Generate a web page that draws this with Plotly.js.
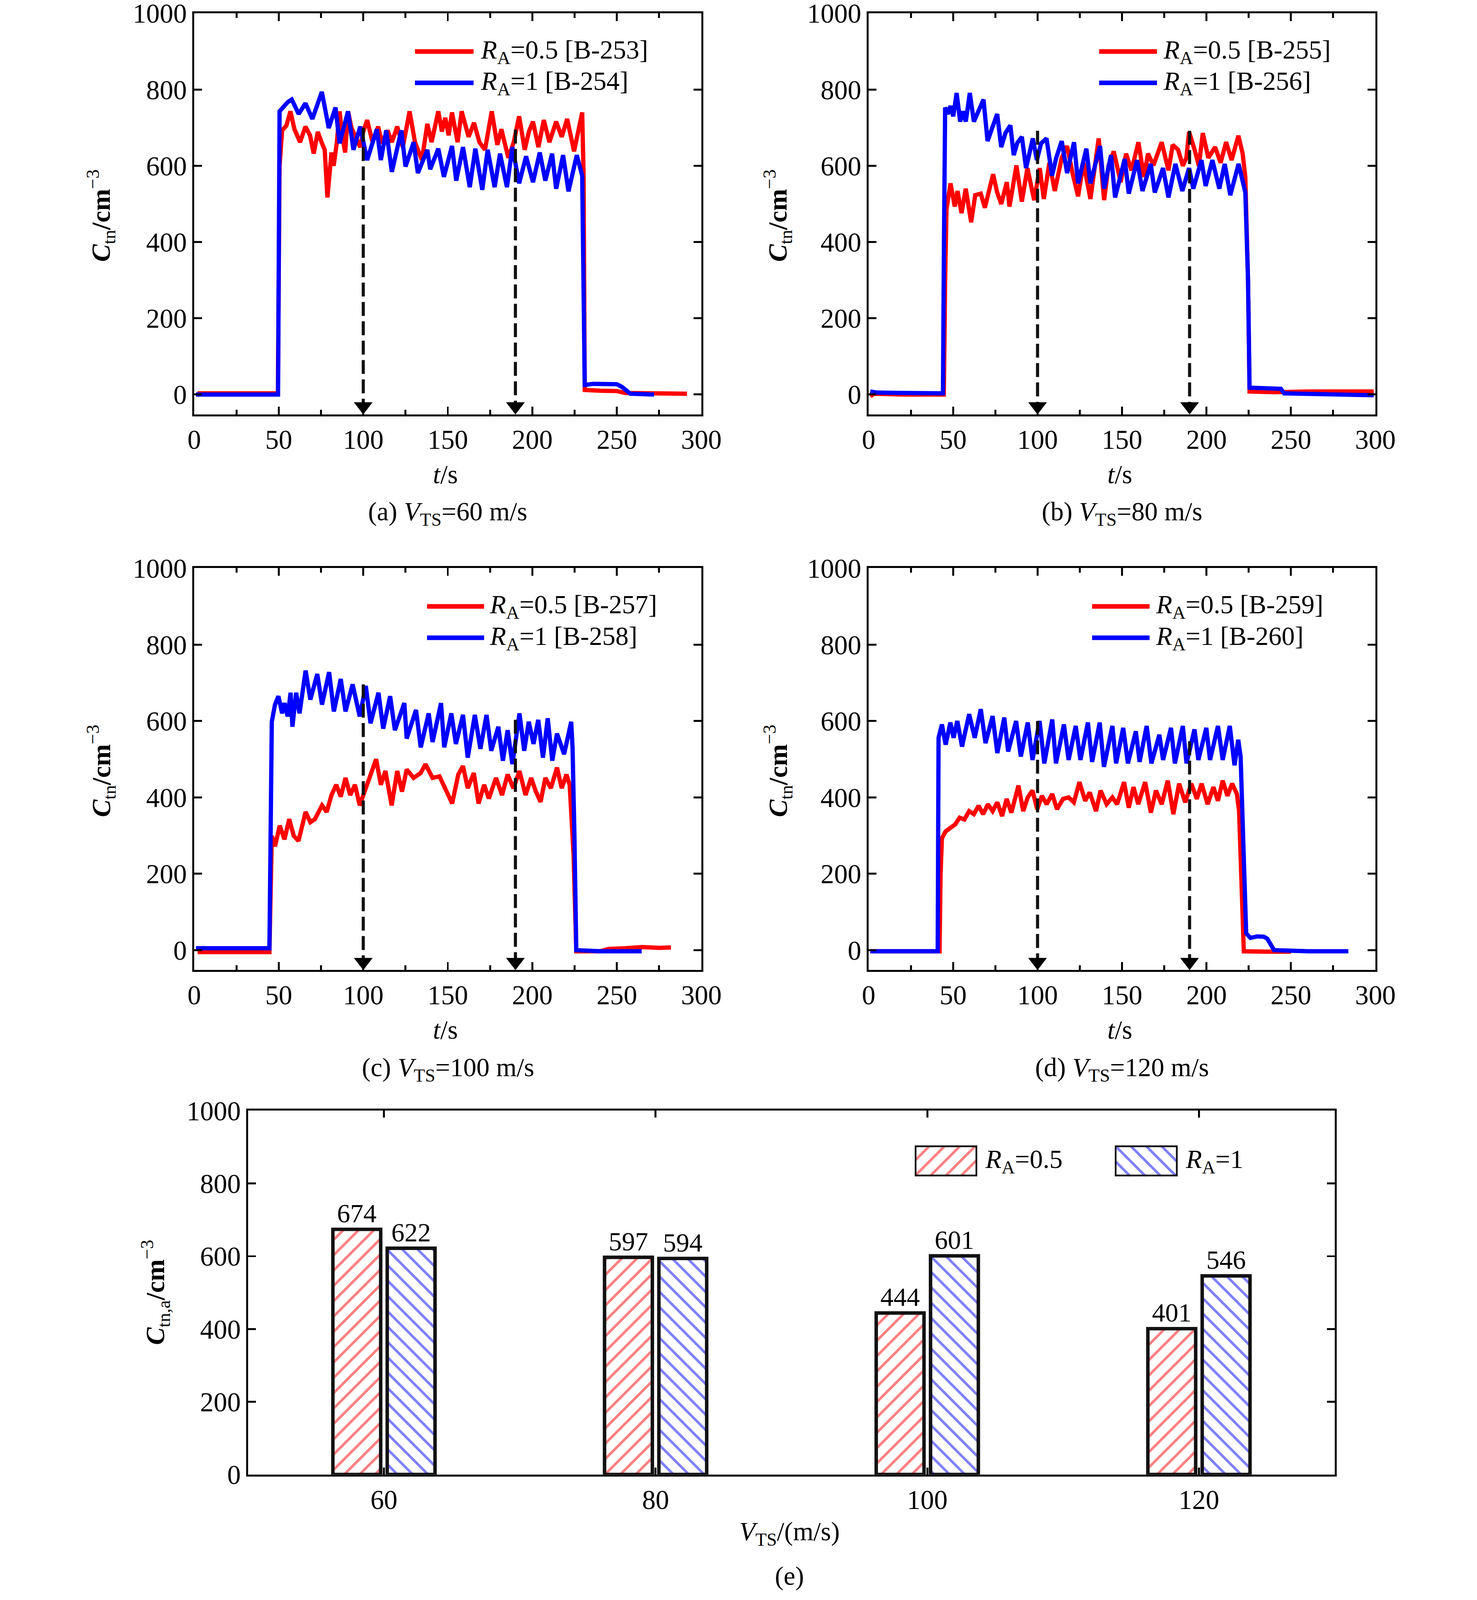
<!DOCTYPE html>
<html>
<head>
<meta charset="utf-8">
<script src="https://cdn.plot.ly/plotly-3.0.1.min.js"></script>
<style>
  html, body { margin: 0; padding: 0; background: #fff; overflow: hidden; }
  #chart { width: 100vw; height: 100vh; }
</style>
</head>
<body>
<div id="chart"></div>
<script>
// time series, [t (s), C_tn (cm^-3)]
const a_RA05 = [[2,3],[49.5,3],[50.5,600],[52,693],[54.5,705],[56.9,743],[59.3,696],[62.6,662],[65.8,703],[68.5,680],[70.7,632],[73.1,689],[75.5,660],[77.2,642],[78.8,517],[81.2,635],[82.5,600],[84.4,662],[86,743],[87.5,680],[89.3,635],[91,743],[93,700],[95,682],[98.2,649],[100,690],[102.3,720],[105.5,662],[108.8,703],[111.2,659],[114.4,693],[116.9,662],[120.1,703],[123.4,649],[127.4,743],[130.6,662],[134.7,615],[137.9,710],[140.4,662],[144.4,743],[146.5,690],[148.5,726],[150.5,680],[152.5,740],[155.8,662],[158.2,743],[162.3,676],[165.5,713],[168.7,662],[172,642],[176,743],[179.3,655],[181.7,696],[185.8,621],[189,662],[192.2,730],[195.5,642],[198,690],[200.4,716],[203.6,649],[206.8,720],[210.1,662],[214.1,716],[217.4,676],[220.6,723],[224.7,638],[227.1,693],[229.5,740],[230.3,581],[231,12],[240,10],[250,9],[255,4],[265,3],[280,2],[291.5,2]];
const a_RA1 = [[1,0],[49.6,0],[50.5,743],[55.3,767],[57.7,774],[61.8,736],[65.8,764],[69.9,723],[75.5,794],[79.6,699],[83.6,753],[86,659],[91,743],[94.2,642],[98.2,703],[102.3,615],[108,696],[110.4,615],[113.6,693],[116.9,584],[122.5,693],[125,598],[129.8,662],[132.3,581],[137.9,642],[139.6,591],[144.4,645],[147.7,571],[152.5,652],[155,561],[159,649],[163,544],[166.3,645],[170.4,537],[173.6,642],[177.7,544],[180.9,632],[185,544],[188.2,649],[192.2,554],[196.3,625],[200.4,557],[204.4,635],[207.7,561],[211.7,632],[214.1,540],[218.2,628],[221.4,533],[226.3,628],[229.5,574],[231,25],[236,28],[250,27],[253,20],[258,2],[272,0]];

const b_RA05 = [[1,-5],[3,2],[20,0],[44.5,0],[45.3,300],[46.1,486],[48.5,554],[51,493],[52.6,534],[55,476],[57.5,540],[60.7,452],[63.1,523],[66.4,527],[68.8,490],[71.2,530],[73.7,578],[76.1,530],[78.5,500],[81.8,557],[83.4,493],[87.5,601],[90.7,506],[94,594],[98,510],[101.3,594],[103.7,513],[107,608],[110.2,534],[114.3,621],[117.5,652],[120.7,581],[124,520],[127.2,608],[131.3,513],[136.2,672],[139.4,510],[142,600],[145.1,638],[149.2,557],[152.4,632],[155.6,588],[159.7,662],[163,571],[165.4,632],[168.6,601],[173.5,662],[177.5,588],[180,655],[183.2,642],[186,600],[188.1,621],[189.7,689],[193,642],[195.5,600],[197.8,686],[201.1,621],[205.1,649],[208.4,608],[211.6,662],[214.9,615],[218.9,679],[221.4,632],[223,571],[224.6,300],[225.5,8],[240,6],[260,8],[280,9],[299,8]];
const b_RA1 = [[1,8],[5,5],[20,4],[44,3],[44.6,400],[45.3,753],[46.9,736],[48.5,757],[50.1,730],[52.1,791],[54.2,716],[55.8,743],[57.5,716],[59.9,791],[62.3,716],[64.8,743],[68,774],[70.4,665],[72.9,696],[76.1,736],[78.5,649],[81,686],[83.9,706],[85.9,628],[88,660],[90.7,676],[93.2,594],[97.2,672],[99.6,615],[102.1,659],[105.3,672],[108.6,574],[111,620],[114.3,665],[117.5,581],[121.6,662],[124,554],[128.9,645],[131.3,554],[137,652],[139.4,540],[143.5,628],[145.9,517],[151.6,618],[154,527],[158.9,615],[162.1,534],[167,605],[169.4,530],[174.3,594],[177.5,517],[181.6,605],[185.7,534],[189.7,594],[192.2,540],[197,615],[199.5,547],[203.5,615],[207.6,540],[210.8,605],[214.1,523],[219,605],[223,530],[224.6,300],[225.5,18],[240,16],[244,15],[246,3],[270,0],[299,-2]];

const c_RA05 = [[2,-5],[20,-5],[44.5,-5],[45.9,299],[47.8,272],[50.6,326],[53.4,290],[56.2,343],[58.9,299],[61.7,286],[65.9,362],[68.7,335],[71.4,343],[75.6,379],[78.4,362],[81.2,406],[84,433],[86.7,402],[89.5,451],[92.3,406],[95.1,433],[97.9,379],[100.6,415],[103.4,451],[107.6,500],[110.4,433],[113.1,469],[116.8,379],[120.1,469],[122.9,415],[125.7,473],[129.8,451],[134,464],[136.8,487],[141,451],[145.1,455],[149.3,415],[152.6,384],[156.2,460],[159,482],[161.8,424],[165.4,464],[168.2,384],[171.5,433],[174.3,397],[178.5,451],[182.1,406],[185.4,460],[188.8,424],[192.4,469],[196,406],[199.3,451],[202.1,415],[204.9,388],[207.7,451],[211,424],[214.6,478],[217.4,424],[220.2,460],[222.1,433],[224.4,250],[226,-3],[240,-3],[245,3],[255,5],[265,8],[275,6],[282,7]];
const c_RA1 = [[1,5],[20,5],[44.5,5],[45.9,598],[47.8,643],[49.8,665],[52,620],[53.4,647],[55.3,612],[57,674],[58.1,585],[60.3,674],[62.3,620],[65.9,732],[68.7,656],[72.8,723],[75.6,643],[79.8,728],[82.6,625],[86.7,710],[89.5,625],[93.7,696],[97.9,612],[101.5,692],[104.3,594],[109,674],[111.8,580],[115.9,665],[118.7,576],[124.3,647],[125.7,554],[131.2,629],[134,531],[138.7,620],[141,545],[146,647],[147.9,531],[152.1,620],[154.8,540],[159,616],[161.8,504],[166,616],[169.3,527],[172.9,616],[175.7,522],[179.9,585],[182.6,496],[185.4,576],[188.2,487],[192.4,620],[195.2,522],[197.9,598],[200.7,540],[203.5,603],[206.3,504],[209.1,607],[211.8,496],[214.6,567],[218.8,513],[223,598],[223.8,531],[224.9,300],[226,0],[240,-3],[264.7,-3]];

const d_RA05 = [[1,-3],[20,-3],[42,-3],[42.6,200],[43.4,293],[45.6,311],[48.4,320],[51.2,329],[53.9,347],[56.7,342],[59.5,364],[62.3,356],[65.1,378],[67.8,356],[70.6,382],[73.4,364],[76.2,387],[79,351],[81.7,396],[84.5,360],[88.7,431],[91.5,364],[94.2,400],[97,418],[99.8,369],[102.6,404],[105.4,382],[108.7,409],[111.5,369],[115.1,396],[118.4,400],[121.5,387],[124.8,440],[128.2,391],[130.9,413],[134.6,364],[137.3,418],[140.9,382],[144.3,400],[147.1,382],[151.2,440],[154,373],[156.8,427],[159.6,382],[163.7,440],[167.1,360],[170.1,418],[173.5,382],[177.1,444],[180.4,356],[183.8,436],[187.4,387],[191,436],[194.3,396],[197.1,436],[200.7,382],[204.1,427],[206.8,391],[209.6,444],[212.4,404],[215.2,436],[218,409],[219.3,364],[220.7,150],[222.1,-3],[235,-4],[250,-4]];
const d_RA1 = [[1,-3],[20,-3],[40.9,-3],[41.4,556],[43.4,591],[45.6,538],[48.4,596],[50.3,556],[52.5,600],[55.3,533],[59.5,618],[62.8,556],[66.4,631],[69.2,542],[73.4,613],[76.2,516],[80.3,609],[82.6,520],[87.3,600],[90.1,507],[94.2,596],[97,498],[101.2,600],[104,489],[108.7,604],[110.9,489],[115.6,591],[118.4,498],[122.6,587],[125.4,498],[129.8,596],[132.3,493],[136.8,596],[139.3,480],[144.3,587],[146.5,489],[150.7,582],[153.5,489],[158.2,573],[160.4,493],[164.6,587],[167.4,489],[172.1,564],[174.3,498],[179,582],[181.3,489],[186,587],[188.2,489],[192.9,578],[195.2,498],[199.9,582],[202.1,498],[206.8,587],[209.6,498],[213.8,587],[216.6,484],[218.8,551],[220.2,507],[221.6,300],[223.5,44],[226,32],[230,36],[234,35],[236,30],[240,0],[260,-3],[284,-3]];

const runIds = [['B-253', 'B-254'], ['B-255', 'B-256'], ['B-257', 'B-258'], ['B-259', 'B-260']];
const vtsValues = [60, 80, 100, 120];
const arrowTimes = [100, 190];
const arrowTops = [[700, 695], [692, 692], [696, 603], [600, 547]];

// panel (e): time-averaged concentration
const vtsCats = ['60', '80', '100', '120'];
const meanRA05 = [674, 597, 444, 401];
const meanRA1 = [622, 594, 601, 546];

// positions below are given in pixels of the 3780x4132 reference and
// turned into paper fractions, so the figure fills whatever viewport we get
const REF_W = 3780, REF_H = 4132;
const W = window.innerWidth || REF_W;
const H = window.innerHeight || REF_H;
const k = Math.min(W / REF_W, H / REF_H);
const px = v => v / REF_W;
const py = v => 1 - v / REF_H;
const sz = v => v * k;
const FONT = 'Liberation Serif, Times New Roman, serif';
const RED = '#ff0000', BLUE = '#0000ff';

// pixel boxes of the four time plots
const boxes = [
  { l: 497, r: 1795, t: 34, b: 1070, leg: [1062, 1212, 1228, 133, 214], ytx: 258 },
  { l: 2223, r: 3520, t: 34, b: 1070, leg: [2813, 2961, 2975, 133, 214], ytx: 1990 },
  { l: 497, r: 1795, t: 1467, b: 2505, leg: [1093, 1239, 1251, 1566, 1647], ytx: 258 },
  { l: 2223, r: 3520, t: 1467, b: 2505, leg: [2795, 2942, 2956, 1566, 1647], ytx: 1990 }
];
const series = [[a_RA05, a_RA1], [b_RA05, b_RA1], [c_RA05, c_RA1], [d_RA05, d_RA1]];
const letters = ['a', 'b', 'c', 'd'];

const data = [];
const layout = {
  width: W,
  height: H,
  margin: { l: 0, r: 0, t: 0, b: 0 },
  paper_bgcolor: '#fff',
  plot_bgcolor: '#fff',
  showlegend: false,
  font: { family: FONT, size: sz(66), color: '#000' },
  shapes: [],
  annotations: []
};

function frameAxis(extra) {
  return Object.assign({
    showline: true,
    linewidth: sz(5),
    linecolor: '#000',
    mirror: 'ticks',
    ticks: 'inside',
    ticklen: sz(20),
    tickwidth: sz(5),
    tickcolor: '#000',
    showgrid: false,
    zeroline: false,
    fixedrange: true,
    ticklabeloverflow: 'allow',
    tickfont: { family: FONT, size: sz(70), color: '#000' }
  }, extra);
}

function note(x, y, text, opts) {
  layout.annotations.push(Object.assign({
    xref: 'paper', yref: 'paper', x: px(x), y: py(y),
    text: text, showarrow: false, xanchor: 'center', yanchor: 'middle',
    font: { family: FONT, size: sz(68), color: '#000' }
  }, opts || {}));
}

const ytitle = '<b><i>C</i></b><sub>tn</sub><b>/cm</b><sup>\u22123</sup>';

boxes.forEach((bx, i) => {
  const n = i + 1;
  const xa = 'x' + n, ya = 'y' + n;
  layout['xaxis' + n] = frameAxis({
    domain: [px(bx.l), px(bx.r)],
    anchor: ya,
    range: [0, 300],
    tick0: 0,
    dtick: 50,
    ticklabelstandoff: sz(-8),
    minor: { ticks: 'inside', dtick: 25, ticklen: sz(12), tickwidth: sz(5), tickcolor: '#000', showgrid: false }
  });
  layout['yaxis' + n] = frameAxis({
    domain: [py(bx.b), py(bx.t)],
    anchor: xa,
    range: [-52, 1000.5],
    tick0: 0,
    dtick: 200,
    ticklabelstandoff: sz(8)
  });

  const colors = [RED, BLUE];
  series[i].forEach((s, j) => {
    data.push({
      type: 'scatter', mode: 'lines', xaxis: xa, yaxis: ya,
      x: s.map(p => p[0]), y: s.map(p => p[1]),
      line: { color: colors[j], width: sz(11) },
      hoverinfo: 'skip'
    });
  });

  // dashed arrows marking the averaging window
  arrowTimes.forEach((t, j) => {
    data.push({
      type: 'scatter', mode: 'lines', xaxis: xa, yaxis: ya,
      x: [t, t], y: [arrowTops[i][j], -22],
      line: { color: '#111', width: sz(8), dash: sz(36) + 'px,' + sz(14) + 'px' },
      hoverinfo: 'skip'
    });
  });
  data.push({
    type: 'scatter', mode: 'markers', xaxis: xa, yaxis: ya,
    x: arrowTimes, y: arrowTimes.map(() => -31),
    marker: { symbol: 'triangle-down', size: sz(42), color: '#000' },
    cliponaxis: false,
    hoverinfo: 'skip'
  });

  // legend
  const [l0, l1, tx, y0, y1] = bx.leg;
  [[RED, y0, '0.5', runIds[i][0]], [BLUE, y1, '1', runIds[i][1]]].forEach(([c, yy, ra, run]) => {
    layout.shapes.push({
      type: 'line', xref: 'paper', yref: 'paper',
      x0: px(l0), x1: px(l1), y0: py(yy), y1: py(yy),
      line: { color: c, width: sz(12) }
    });
    note(tx, yy, '<i>R</i><sub>A</sub>=' + ra + ' [' + run + ']', { xanchor: 'left' });
  });

  const cx = (bx.l + bx.r) / 2;
  note(bx.ytx, (bx.t + bx.b) / 2 + 5, ytitle, { textangle: -90 });
  note(cx - 6, bx.b + 155, '<i>t</i>/s');
  note(cx, bx.b + 256, '(' + letters[i] + ') <i>V</i><sub>TS</sub>=' + vtsValues[i] + ' m/s');
});

// panel (e)
const E = { l: 635, r: 3416, t: 2868, b: 3808 };
layout.xaxis5 = frameAxis({
  domain: [px(E.l), px(E.r)],
  anchor: 'y5',
  type: 'category',
  range: [-0.5, 3.5],
  ticklen: sz(18),
  ticklabelstandoff: sz(0)
});
layout.yaxis5 = frameAxis({
  domain: [py(E.b), py(E.t)],
  anchor: 'x5',
  range: [0, 1000.5],
  tick0: 0,
  dtick: 200,
  ticklabelstandoff: sz(8)
});
layout.barmode = 'group';
layout.bargap = 0.6;
layout.bargroupgap = 0.12;

function hatch(shape, color) {
  return { shape: shape, fgcolor: color, bgcolor: '#fff', fillmode: 'overlay', size: sz(28), solidity: 0.24 };
}
const barStyle = [
  { name: 'RA=0.5', vals: meanRA05, pattern: hatch('/', RED) },
  { name: 'RA=1', vals: meanRA1, pattern: hatch('\\', BLUE) }
];
barStyle.forEach(b => {
  data.push({
    type: 'bar', xaxis: 'x5', yaxis: 'y5',
    x: vtsCats, y: b.vals, name: b.name,
    marker: { color: '#fff', pattern: b.pattern, line: { color: '#111', width: sz(9) } },
    text: b.vals.map(String),
    textposition: 'outside',
    textfont: { family: FONT, size: sz(68), color: '#000' },
    cliponaxis: false,
    hoverinfo: 'skip'
  });
});

// hatched legend swatches, each a one-bar mini plot
const swatches = [
  { l: 2341, r: 2501, t: 2958, b: 3038, text: '<i>R</i><sub>A</sub>=0.5', tx: 2519 },
  { l: 2853, r: 3014, t: 2958, b: 3038, text: '<i>R</i><sub>A</sub>=1', tx: 3032 }
];
swatches.forEach((s, j) => {
  const n = 6 + j;
  layout['xaxis' + n] = { domain: [px(s.l), px(s.r)], anchor: 'y' + n, range: [-0.5, 0.5], visible: false, fixedrange: true };
  layout['yaxis' + n] = { domain: [py(s.b), py(s.t)], anchor: 'x' + n, range: [0, 1], visible: false, fixedrange: true };
  data.push({
    type: 'bar', xaxis: 'x' + n, yaxis: 'y' + n,
    x: [0], y: [1], width: [1],
    marker: { color: '#fff', pattern: barStyle[j].pattern, line: { color: '#111', width: sz(9) } },
    cliponaxis: false,
    hoverinfo: 'skip'
  });
  note(s.tx, (s.t + s.b) / 2, s.text, { xanchor: 'left' });
});

note(397, (E.t + E.b) / 2, '<b><i>C</i></b><sub>tn,a</sub><b>/cm</b><sup>\u22123</sup>', { textangle: -90 });
note(2021, 3960, '<i>V</i><sub>TS</sub>/(m/s)');
note(2021, 4070, '(e)');

Plotly.newPlot('chart', data, layout, { displayModeBar: false, staticPlot: true });
</script>
</body>
</html>
